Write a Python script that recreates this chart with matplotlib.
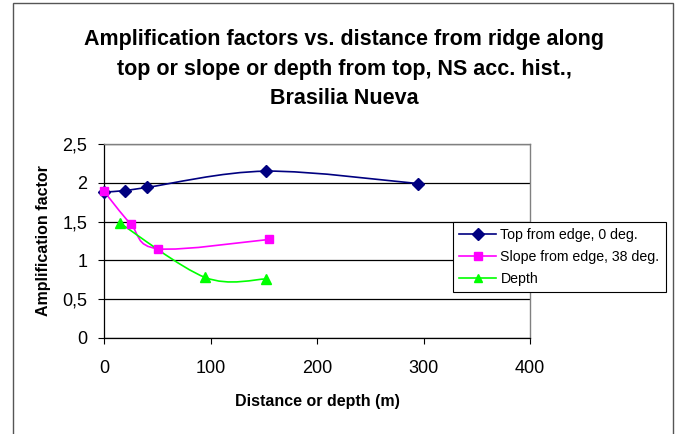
import matplotlib
matplotlib.use("Agg")
import matplotlib.pyplot as plt
import numpy as np
from matplotlib.path import Path
from matplotlib.patches import PathPatch, Rectangle
from matplotlib.lines import Line2D

plt.rcParams['font.family'] = ['Liberation Sans', 'DejaVu Sans']

# Series data
top_x = [0, 20, 40, 152, 295]
top_y = [1.88, 1.90, 1.94, 2.15, 1.99]
slope_x = [0, 25, 51, 155]
slope_y = [1.89, 1.47, 1.15, 1.27]
depth_x = [15, 95, 152]
depth_y = [1.48, 0.78, 0.76]

series_names = ["Top from edge, 0 deg.", "Slope from edge, 38 deg.", "Depth"]
series_colors = ["#000080", "#FF00FF", "#00FF00"]
series_markers = ["D", "s", "^"]

x_ticks = [0, 100, 200, 300, 400]
y_ticks = [0, 0.5, 1, 1.5, 2, 2.5]
y_tick_labels = ["0", "0,5", "1", "1,5", "2", "2,5"]

title = ("Amplification factors vs. distance from ridge along\n"
         "top or slope or depth from top, NS acc. hist.,\n"
         "Brasilia Nueva")

W, H = 675, 434
fig = plt.figure(figsize=(W / 100, H / 100), dpi=100)

# outer chart border
fig.patches.append(Rectangle((12.7 / W, -0.05), (672.7 - 12.7) / W, 1.05 - 3.3 / H,
                             transform=fig.transFigure, fill=False,
                             edgecolor="#555555", linewidth=1.0))

ax = fig.add_axes([104 / W, (H - 338) / H, (530 - 104) / W, (338 - 144) / H])
ax.set_xlim(0, 400)
ax.set_ylim(0, 2.5)


def smooth_path(xs, ys):
    """Cubic Bezier path through the points (Catmull-Rom style control points)."""
    pts = np.column_stack([xs, ys]).astype(float)
    n = len(pts)
    verts = [pts[0]]
    codes = [Path.MOVETO]
    for i in range(n - 1):
        p0 = pts[i - 1] if i > 0 else pts[i]
        p1 = pts[i]
        p2 = pts[i + 1]
        p3 = pts[i + 2] if i + 2 < n else pts[i + 1]
        c1 = p1 + (p2 - p0) / 6.0
        c2 = p2 - (p3 - p1) / 6.0
        verts += [c1, c2, p2]
        codes += [Path.CURVE4] * 3
    return Path(verts, codes)


for xs, ys, c, m in zip([top_x, slope_x, depth_x], [top_y, slope_y, depth_y],
                        series_colors, series_markers):
    ax.add_patch(PathPatch(smooth_path(xs, ys), fill=False, edgecolor=c,
                           linewidth=1.2, zorder=3))
    ms = 7 if m == "^" else 6
    ax.plot(xs, ys, linestyle="none", marker=m, color=c, markersize=ms,
            markeredgecolor=c, zorder=4, clip_on=False)

ax.set_yticks(y_ticks)
ax.set_yticklabels(y_tick_labels)
ax.set_xticks(x_ticks)
ax.grid(axis="y", color="#000000", linewidth=0.9)
ax.set_axisbelow(True)

for side in ["top", "right"]:
    ax.spines[side].set_color("#808080")
    ax.spines[side].set_linewidth(1.0)
for side in ["left", "bottom"]:
    ax.spines[side].set_color("#000000")
    ax.spines[side].set_linewidth(0.9)

ax.tick_params(axis="both", direction="out", length=4, width=0.8,
               labelsize=13, colors="#000000")
ax.tick_params(axis="x", pad=12)
ax.tick_params(axis="y", pad=8)

ax.set_xlabel("Distance or depth (m)", fontsize=11.5, fontweight="bold", labelpad=12)
ax.set_ylabel("Amplification factor", fontsize=11.5, fontweight="bold", labelpad=8)

fig.text(344 / W, 1 - 69 / H, title, ha="center", va="center", fontsize=15.5,
         fontweight="bold", linespacing=1.55)

handles = [Line2D([], [], color=c, marker=m, markersize=6, linewidth=1.2)
           for c, m in zip(series_colors, series_markers)]
leg = fig.legend(handles, series_names, loc="upper left",
                 bbox_to_anchor=(453 / W, 1 - 222 / H), fontsize=10.2,
                 frameon=True, fancybox=False, framealpha=1, edgecolor="#000000",
                 borderpad=0.45, labelspacing=0.55, handlelength=2.6,
                 handletextpad=0.3, borderaxespad=0)
leg.get_frame().set_linewidth(0.8)

fig.savefig("out.png", dpi=100)
